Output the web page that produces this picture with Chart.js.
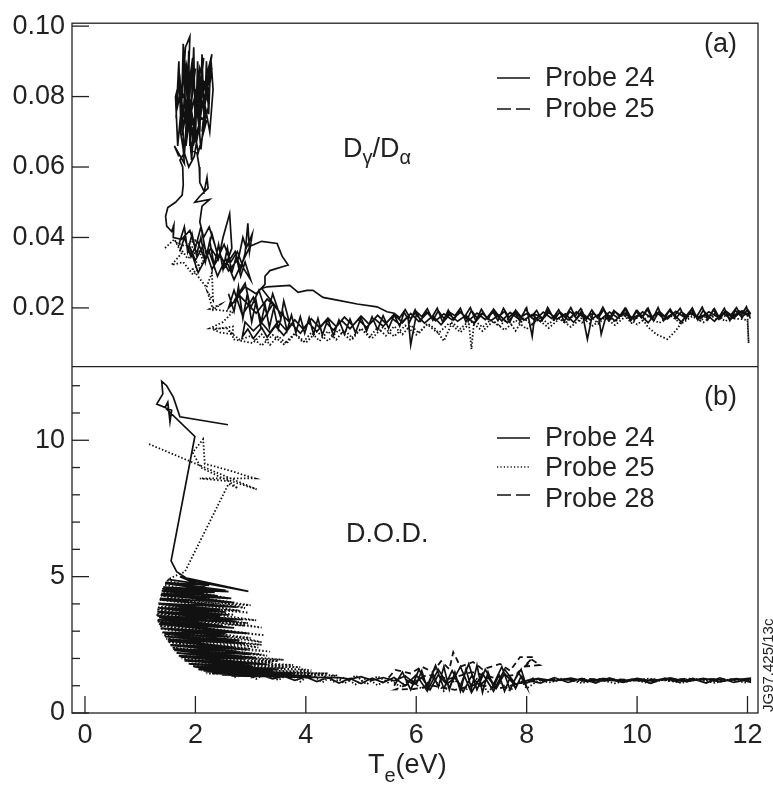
<!DOCTYPE html>
<html>
<head>
<meta charset="utf-8">
<script src="https://cdn.jsdelivr.net/npm/chart.js@4.4.1/dist/chart.umd.min.js"></script>
<style>
  html, body { margin: 0; padding: 0; background: #fff; }
</style>
</head>
<body>
<canvas id="dodChart" width="773" height="787"></canvas>
<script>
// tick values
var xTicks = [0, 2, 4, 6, 8, 10, 12];
var yTicksA = [0.02, 0.04, 0.06, 0.08, 0.10];
var yTicksB = [0, 1, 2, 3, 4, 5, 6, 7, 8, 9, 10, 11, 12];
var yLabelsB = [0, 5, 10];

// (a) Dgamma/Dalpha, probe 24 (solid), [Te, ratio], null = break
var probe24a = [
  [1.7,0.063],[1.62,0.066],[1.8,0.061],[1.78,0.065],[1.72,0.071],[1.82,0.094],[1.9,0.097],[1.86,0.078],
  [1.76,0.069],[1.95,0.091],[1.83,0.066],[2.0,0.088],[1.88,0.072],[1.8,0.092],[1.92,0.064],[2.08,0.085],
  [1.98,0.071],[1.7,0.084],[1.66,0.076],[1.84,0.089],[1.94,0.069],[2.15,0.091],[2.05,0.076],[2.3,0.092],
  [2.22,0.084],[2.12,0.07],[2.25,0.078],[2.08,0.088],[1.96,0.066],[2.1,0.074],[2.2,0.073],[2.05,0.064],
  [1.86,0.083],[1.8,0.088],[1.9,0.074],[2.02,0.082],[2.28,0.086],[2.14,0.079],[1.98,0.063],[1.88,0.06],
  [1.8,0.064],[1.72,0.062],[1.77,0.06],[1.78,0.055],[1.76,0.052],[1.64,0.05],[1.5,0.0485],[1.46,0.046],
  [1.48,0.0432],[1.57,0.0417],[1.61,0.0435],[1.6,0.04],
  [1.75,0.0395],[1.9,0.042],[2.0,0.037],[2.1,0.043],[2.2,0.035],[2.3,0.041],[2.42,0.034],[2.5,0.04],
  [2.62,0.0467],[2.66,0.037],[2.55,0.032],[2.72,0.036],[2.82,0.031],[2.9,0.0355],[2.95,0.044],[2.98,0.036],
  [3.03,0.041],[2.92,0.037],[2.86,0.04],[2.78,0.034],[2.6,0.0305],[2.45,0.035],[2.3,0.031],[2.15,0.038],
  [2.0,0.0335],[1.88,0.038],[2.05,0.03],[2.25,0.036],[2.4,0.029],[2.55,0.034],[2.7,0.028],[2.85,0.033],
  [2.99,0.0375],[3.2,0.0389],[3.48,0.0383],[3.57,0.0347],[3.68,0.0322],[3.62,0.0319],[3.35,0.0306],[3.26,0.029],
  [3.26,0.0267],[3.1,0.024],[2.9,0.026],[2.7,0.022],[2.9,0.027],[3.0,0.02],[3.15,0.025],[3.3,0.018],
  [3.4,0.024],[3.55,0.017],[3.6,0.022],[3.7,0.016],[3.4,0.021],[3.2,0.016],[3.05,0.023],[2.85,0.018],
  [2.7,0.025],[2.6,0.02],[2.8,0.0235],[3.1,0.0185],[3.3,0.0225],[3.5,0.0195],[3.2,0.0255],[3.3,0.026],
  [3.71,0.0264],[3.86,0.0244],[4.02,0.025],[4.13,0.025],[4.31,0.023],[4.57,0.0222],[4.93,0.0211],[5.29,0.0203],
  [5.47,0.0189],
  [5.6,0.0185],[5.7,0.0172],[5.8,0.0195],[5.9,0.0168],[6.0,0.019],[6.1,0.0175],[6.2,0.0198],[6.3,0.0165],
  [6.4,0.0192],[6.5,0.017],[6.6,0.0188],[6.7,0.0178],[6.8,0.0199],[6.9,0.016],[7.0,0.0193],[7.1,0.0172],
  [7.2,0.0186],[7.3,0.0168],[7.4,0.0197],[7.5,0.0176],[7.6,0.019],[7.7,0.0162],[7.8,0.0194],[7.9,0.0174],
  [8.0,0.02],[8.1,0.0119],[8.15,0.0182],[8.3,0.0171],[8.4,0.0196],[8.5,0.0166],[8.6,0.0189],[8.7,0.0175],
  [8.8,0.0201],[8.9,0.0169],[9.0,0.0192],[9.1,0.0111],[9.2,0.0188],[9.3,0.0172],[9.4,0.0196],[9.5,0.0165],
  [9.6,0.019],[9.7,0.0178],[9.8,0.0198],[9.9,0.0168],[10.0,0.0193],[10.1,0.0174],[10.2,0.0199],[10.3,0.0163],
  [10.4,0.0191],[10.5,0.0176],[10.6,0.0197],[10.7,0.017],[10.8,0.0189],[10.9,0.0177],[11.0,0.02],[11.1,0.0166],
  [11.2,0.0194],[11.3,0.0173],[11.4,0.0198],[11.5,0.0169],[11.6,0.0192],[11.7,0.018],[11.8,0.0201],[11.9,0.0172],
  [12.0,0.0196],[12.05,0.0185],
  [12.02,0.0178],[11.85,0.0191],[11.7,0.0168],[11.55,0.0186],[11.4,0.0162],[11.25,0.0183],[11.1,0.0171],[10.95,0.0189],
  [10.8,0.016],[10.65,0.0185],[10.5,0.0167],[10.35,0.0188],[10.2,0.0158],[10.05,0.0182],[9.9,0.017],[9.75,0.0187],
  [9.6,0.0163],[9.45,0.0184],[9.35,0.0125],[9.3,0.0181],[9.15,0.0166],[9.0,0.0186],[8.85,0.0159],[8.7,0.0183],
  [8.55,0.0168],[8.4,0.0187],[8.25,0.0161],[8.1,0.0181],[7.95,0.0165],[7.8,0.0186],[7.65,0.0158],[7.5,0.018],
  [7.35,0.0164],[7.2,0.0184],[7.05,0.0156],[6.9,0.0179],[6.75,0.0162],[6.6,0.0181],[6.45,0.0152],[6.3,0.0177],
  [6.15,0.0157],[6.0,0.018],[5.9,0.0095],[5.85,0.0176],[5.7,0.0153],[5.55,0.0172],[5.4,0.0148],[5.25,0.0169],
  [5.1,0.0145],[4.95,0.0167],[4.8,0.0141],[4.65,0.0164],[4.5,0.0137],[4.35,0.0161],[4.2,0.0133],[4.05,0.0158],
  [3.9,0.0128],[3.75,0.0154],[3.6,0.0122],[3.45,0.0149],[3.3,0.0117],[3.2,0.0144],[3.05,0.0113],[2.95,0.014],
  [2.85,0.0118],
  [2.9,0.016],[3.05,0.0135],[3.2,0.0158],[3.35,0.013],[3.5,0.0162],[3.65,0.0136],[3.8,0.0166],[3.95,0.014],
  [4.1,0.0169],[4.25,0.0144],[4.4,0.0171],[4.55,0.0147],[4.7,0.0174],[4.85,0.015],[5.0,0.0177],[5.15,0.0153],
  [5.3,0.0179],[5.45,0.0156],[5.6,0.0182],[5.75,0.0158],[5.9,0.0184],[6.05,0.0161],[6.2,0.0186],[6.35,0.0163],
  [6.5,0.0183],[6.65,0.0166],[6.8,0.0188],[6.95,0.0164],[7.1,0.0185],[7.25,0.0167],[7.4,0.0189],[7.55,0.0163],
  [7.7,0.0187],[7.85,0.0169],[8.0,0.0184],[8.15,0.0165],[8.3,0.0188],[8.45,0.017],[8.6,0.0186],[8.75,0.0166],
  [8.9,0.0189],[9.05,0.0171],[9.2,0.0185],[9.35,0.0168],[9.5,0.0188],[9.65,0.0172],[9.8,0.0186],[9.95,0.0167],
  [10.1,0.0189],[10.25,0.0173],[10.4,0.0187],[10.55,0.0169],[10.7,0.019],[10.85,0.0174],[11.0,0.0186],[11.15,0.017],
  [11.3,0.0189],[11.45,0.0175],[11.6,0.0187],[11.75,0.0171],[11.9,0.0192],[12.05,0.0178],
  null,
  [1.94,0.0647],[2.03,0.0639],[2.07,0.06],[2.08,0.0556],[2.16,0.053],[2.21,0.057],[2.23,0.054],[2.08,0.0517],
  [1.99,0.05],[2.26,0.0508],[2.12,0.0489],[2.08,0.0444],[2.15,0.04],[2.25,0.043],[2.35,0.038],
  null,
  [1.65,0.074],[1.7,0.09],[1.74,0.07],[1.78,0.095],[1.84,0.068],[1.88,0.093],[1.9,0.066],[1.97,0.094],
  [2.0,0.067],[2.04,0.09],[2.08,0.07],[2.12,0.092],[2.16,0.072],[2.2,0.09],[2.24,0.075],[2.28,0.091],
  [2.32,0.082],[2.26,0.07],[2.18,0.077],[2.1,0.065],[2.02,0.08],[1.93,0.062],[1.86,0.08],[1.8,0.063],
  [1.75,0.078],[1.68,0.066],[1.64,0.08],[1.72,0.085],[1.78,0.074],[1.82,0.086],[1.9,0.072],[1.96,0.086],
  [2.06,0.072],[2.14,0.084],[2.22,0.079],[2.3,0.088],
  null,
  [1.7,0.038],[1.8,0.043],[1.86,0.036],[1.94,0.041],[2.02,0.035],[2.1,0.04],[2.18,0.033],[2.26,0.039],
  [2.34,0.032],[2.42,0.038],[2.5,0.031],[2.58,0.037],[2.66,0.03],[2.74,0.0345],[2.82,0.029],[2.9,0.033],
  [3.0,0.028],[2.88,0.031],[2.76,0.036],[2.64,0.033],[2.52,0.038],[2.4,0.034],[2.28,0.037],[2.16,0.034],
  [2.04,0.039],[1.92,0.0345],[1.8,0.04],[1.72,0.036],
  null,
  [2.6,0.024],[2.7,0.019],[2.78,0.026],[2.86,0.017],[2.94,0.024],[3.02,0.016],[3.1,0.022],[3.18,0.015],
  [3.26,0.021],[3.34,0.0145],[3.42,0.02],[3.5,0.014],[3.58,0.019],[3.66,0.0135],[3.74,0.018],[3.82,0.013],
  [3.9,0.0175],[3.98,0.0128],[4.06,0.0172],[4.14,0.0125],[4.22,0.017],[4.3,0.0123],[4.4,0.0168],[4.5,0.0122],
  [4.6,0.0166],[4.7,0.0125],[4.8,0.0168],[4.9,0.013],[5.0,0.0172],[5.1,0.0134],[5.2,0.0175],[5.3,0.0138],
  [5.4,0.0178],[5.5,0.0142],[5.6,0.018],[5.7,0.0148],
  [5.78,0.0188],[5.88,0.016],[5.98,0.0195],[6.08,0.0163],[6.18,0.019],[6.28,0.0172],[6.38,0.0199],[6.48,0.016],
  [6.58,0.0194],[6.68,0.0166],[6.78,0.0191],[6.88,0.0176],[6.98,0.0201],[7.08,0.0163],[7.18,0.0196],[7.28,0.0171],
  [7.38,0.0192],[7.48,0.0164],[7.58,0.0199],[7.68,0.0173],[7.78,0.0189],[7.88,0.0162],[7.98,0.0197],[8.08,0.0174],
  [8.18,0.0193],[8.28,0.0165],[8.38,0.0201],[8.48,0.0172],[8.58,0.0195],[8.68,0.0162],[8.78,0.019],[8.88,0.0177],
  [8.98,0.0198],[9.08,0.0167],[9.18,0.0194],[9.28,0.0172],[9.38,0.0202],[9.48,0.0165],[9.58,0.0193],[9.68,0.0176],
  [9.78,0.0199],[9.88,0.0163],[9.98,0.0191],[10.08,0.0172],[10.18,0.0197],[10.28,0.0168],[10.38,0.0201],[10.48,0.0164],
  [10.58,0.0192],[10.68,0.0178],[10.78,0.0199],[10.88,0.0167],[10.98,0.0194],[11.08,0.0175],[11.18,0.0202],[11.28,0.0166],
  [11.38,0.0195],[11.48,0.0172],[11.58,0.0199],[11.68,0.0164],[11.78,0.0193],[11.88,0.0177],[11.98,0.0203],[12.05,0.017]
];

// (a) probe 25 (dotted)
var probe25a = [
  [1.45,0.037],[1.62,0.0395],[1.75,0.0355],[1.57,0.0322],[1.78,0.033],[1.96,0.0294],[2.08,0.0314],[1.9,0.036],
  [2.02,0.0395],[1.82,0.0375],[1.66,0.0385],[1.86,0.034],[2.06,0.0365],[2.15,0.033],[1.95,0.031],[2.2,0.0258],
  [2.3,0.03],[2.32,0.0222],[2.22,0.0245],[2.32,0.0194],[2.45,0.021],[2.26,0.0197],[2.68,0.0189],[2.5,0.016],
  [2.26,0.0142],[2.57,0.0142],[2.68,0.0125],[2.45,0.013],[2.32,0.0139],[2.68,0.0147],[2.68,0.0111],[3.04,0.01],
  [3.2,0.0125],[3.35,0.0095],[3.5,0.012],[3.65,0.0098],[3.8,0.0127],[3.95,0.0102],[4.1,0.013],[4.25,0.0106],
  [4.4,0.0134],[4.55,0.011],[4.7,0.0138],[4.85,0.0113],[5.0,0.0141],[5.15,0.0117],[5.3,0.0144],[5.45,0.0121],
  [5.6,0.0148],[5.75,0.0125],[5.9,0.0151],[6.05,0.0128],[6.2,0.0156],[6.35,0.014],[6.5,0.0106],[6.65,0.0158],
  [6.8,0.0141],[6.95,0.0162],[7.0,0.0083],[7.05,0.0165],[7.2,0.0145],[7.35,0.0166],[7.5,0.0148],[7.65,0.0168],
  [7.8,0.0135],[7.95,0.017],[8.1,0.0152],[8.25,0.0172],[8.4,0.0154],[8.55,0.0175],[8.7,0.0156],[8.85,0.0178],
  [9.0,0.0158],[9.15,0.0176],[9.3,0.0155],[9.45,0.0179],[9.6,0.016],[9.75,0.0181],[9.9,0.0157],[10.05,0.018],
  [10.2,0.0145],[10.35,0.0125],[10.55,0.0111],[10.7,0.0135],[10.85,0.0168],[11.0,0.0182],[11.15,0.0163],[11.3,0.0184],
  [11.45,0.0165],[11.6,0.0178],[11.75,0.017],[11.9,0.0168],[12.0,0.0165],[12.02,0.01],
  [12.0,0.0178],[11.8,0.0186],[11.6,0.0162],[11.4,0.0183],[11.2,0.0159],[11.0,0.0176],[10.8,0.0155],[10.6,0.0179],
  [10.4,0.0157],[10.2,0.0175],[10.0,0.0153],[9.8,0.0177],[9.6,0.0151],[9.4,0.0174],[9.2,0.0149],[9.0,0.0172],
  [8.8,0.0146],[8.6,0.017],[8.4,0.0143],[8.2,0.0168],[8.0,0.014],[7.8,0.0165],[7.6,0.0137],[7.4,0.0163],
  [7.2,0.0134],[7.0,0.016],[6.8,0.0131],[6.6,0.0157],[6.4,0.0128],[6.2,0.0153],[6.0,0.0124],[5.8,0.015],
  [5.6,0.0119],[5.4,0.0146],[5.2,0.0114],[5.0,0.0142],[4.8,0.011],[4.6,0.0138],[4.4,0.0106],[4.2,0.0133],
  [4.0,0.0101],[3.8,0.0128],[3.6,0.0097],[3.4,0.0123],[3.2,0.0093],[3.0,0.012],[2.8,0.011],[2.6,0.0135]
];

// (b) D.O.D., probe 24 (solid)
var probe24b = [
  [2.59,10.57],[1.72,10.86],[1.6,11.58],[1.48,12.0],[1.39,12.16],[1.41,11.7],[1.3,11.33],[1.57,11.1],
  [1.54,10.68],[1.5,11.4],[1.45,11.2],[1.99,10.14],[1.56,5.58],[1.66,5.18],[1.9,4.86],[2.96,4.46],
  [1.72,5.0],[2.3,4.5],
  [1.45,4.75],[2.6,4.45],[1.4,4.55],[2.4,4.3],[1.38,4.38],[2.7,4.05],[1.36,4.2],[2.3,3.95],
  [1.35,4.0],[2.55,3.7],[1.34,3.85],[2.45,3.55],[1.33,3.7],[2.75,3.35],[1.34,3.5],[2.5,3.2],
  [1.36,3.32],[2.8,2.95],[1.4,3.1],[2.6,2.8],[1.44,2.9],[2.9,2.55],[1.5,2.7],[2.7,2.4],
  [1.55,2.5],[3.0,2.15],[1.62,2.3],[2.85,2.0],[1.7,2.1],[3.2,1.8],[1.8,1.95],[3.05,1.7],
  [1.9,1.8],[3.4,1.55],[2.0,1.68],[3.3,1.5],[2.15,1.55],[3.7,1.42],[2.3,1.45],[3.9,1.36],
  [2.5,1.4],[4.2,1.32],[2.7,1.36],[4.6,1.3],
  [4.8,1.24],[5.0,1.33],[5.2,1.2],[5.4,1.3],[5.6,1.18],[5.8,1.36],[6.0,1.05],[6.1,1.55],
  [6.2,0.9],[6.3,1.45],[6.4,0.95],[6.5,1.7],[6.6,0.85],[6.7,1.5],[6.8,0.8],[6.9,1.6],
  [7.0,0.9],[7.1,1.75],[7.2,0.75],[7.3,1.5],[7.4,0.95],[7.5,1.4],[7.6,0.8],[7.7,1.3],
  [7.8,0.9],[7.9,1.35],[8.0,1.1],[8.2,1.27],[8.5,1.18],[8.8,1.28],[9.1,1.15],[9.4,1.26],
  [9.7,1.14],[10.0,1.27],[10.3,1.16],[10.6,1.29],[10.9,1.15],[11.2,1.27],[11.5,1.14],[11.8,1.26],
  [12.05,1.13],[12.05,1.28],
  [11.7,1.2],[11.3,1.24],[10.9,1.19],[10.5,1.23],[10.1,1.18],[9.7,1.22],[9.3,1.17],[8.9,1.23],
  [8.5,1.2],[8.1,1.25],[7.8,1.05],[7.6,1.6],[7.4,0.8],[7.2,1.45],[7.0,0.75],[6.8,1.7],
  [6.6,0.95],[6.4,1.6],[6.2,0.8],[6.0,1.4],[5.8,1.0],[5.6,1.3],[5.4,1.12],[5.2,1.28],
  [5.0,1.08],[4.8,1.27],[4.6,1.1],[4.4,1.3],[4.2,1.15],[4.0,1.32],[3.8,1.2],[3.6,1.35],
  [3.4,1.25],[3.2,1.38],[3.0,1.3],
  null,
  [1.5,4.9],[2.25,4.68],[1.46,4.78],[2.55,4.5],[1.42,4.62],[2.35,4.42],[1.39,4.48],[2.65,4.2],
  [1.37,4.32],[2.4,4.12],[1.35,4.16],[2.75,3.88],[1.33,4.02],[2.45,3.8],[1.32,3.86],[2.6,3.6],
  [1.31,3.72],[2.85,3.42],[1.31,3.56],[2.5,3.36],[1.32,3.42],[2.7,3.12],[1.34,3.26],[2.95,2.92],
  [1.37,3.1],[2.55,2.9],[1.41,2.96],[2.8,2.66],[1.45,2.8],[2.65,2.6],[1.5,2.64],[2.95,2.32],
  [1.55,2.48],[2.75,2.26],[1.6,2.34],[3.1,2.02],[1.66,2.2],[2.9,1.98],[1.73,2.06],[3.3,1.78],
  [1.8,1.92],[3.0,1.74],[1.88,1.8],[3.5,1.6],[1.97,1.7],[3.2,1.56],[2.06,1.6],[3.8,1.45],
  [2.18,1.52],[3.5,1.42],[2.32,1.45],[4.1,1.36],[2.48,1.4],[3.8,1.34],[2.65,1.36],[4.5,1.3],
  null,
  [5.6,1.0],[5.75,1.5],[5.9,0.85],[6.05,1.6],[6.2,1.0],[6.35,1.75],[6.5,0.9],[6.65,1.55],
  [6.8,1.0],[6.95,1.8],[7.1,0.85],[7.25,1.6],[7.4,1.05],[7.55,1.7],[7.7,0.85],[7.85,1.5],
  [8.0,0.95],[7.9,1.6],[7.75,1.1],[7.6,1.45],[7.45,0.9],[7.3,1.3],[7.15,1.0],[7.0,1.35],
  [6.85,0.78],[6.7,1.3],[6.55,1.05],[6.4,1.4],[6.25,0.85],[6.1,1.3],[5.95,1.05],[5.8,1.25],
  null,
  [8.0,1.2],[8.25,1.1],[8.5,1.3],[8.75,1.12],[9.0,1.27],[9.25,1.1],[9.5,1.29],[9.75,1.12],
  [10.0,1.25],[10.25,1.09],[10.5,1.28],[10.75,1.13],[11.0,1.26],[11.25,1.1],[11.5,1.29],[11.75,1.12],
  [12.05,1.25]
];

// (b) probe 25 (dotted)
var probe25b = [
  [1.16,9.86],[3.11,8.2],[2.5,8.6],[2.1,9.0],[1.95,9.55],[2.14,10.04],[2.17,9.14],[2.6,8.9],
  [3.08,8.6],[2.08,8.6],[2.6,8.5],[2.77,8.24],[2.6,8.4],[1.81,5.18],[1.55,4.95],
  [1.5,4.85],[2.3,4.5],[1.42,4.6],[2.9,3.85],[1.38,4.3],[2.96,3.67],[1.32,4.0],[2.7,3.6],
  [1.3,3.8],[3.2,3.13],[1.28,3.6],[2.9,3.2],[1.3,3.4],[3.2,2.6],[1.36,3.1],[3.14,2.4],
  [1.42,2.85],[3.0,2.35],[1.5,2.6],[3.3,2.1],[1.58,2.4],[3.1,2.0],[1.66,2.2],[3.5,1.9],
  [1.75,2.0],[3.77,1.76],[1.9,1.8],[3.6,1.65],[2.05,1.6],[4.1,1.52],[2.2,1.45],[4.3,1.4],
  [4.5,1.15],[4.7,1.3],[4.9,1.05],[5.1,1.28],[5.3,1.02],[5.5,1.25],[5.7,0.98],[5.9,1.22],
  [6.1,0.88],[6.3,1.3],[6.5,0.8],[6.7,1.2],[6.9,0.85],[7.1,1.25],[7.3,0.78],[7.5,1.15],
  [7.7,0.82],[7.9,1.2],[8.0,0.9],[8.2,1.18],[8.6,1.26],[9.0,1.16],[9.4,1.27],[9.8,1.15],
  [10.2,1.26],[10.6,1.17],[11.0,1.27],[11.4,1.16],[11.8,1.26],[12.05,1.18],
  null,
  [3.9,1.58],[4.1,1.58],
  null,
  [5.5,1.1],[5.3,1.35],[5.1,1.05],[4.9,1.38],[4.7,1.08],[4.5,1.4],[4.3,1.12],[4.1,1.42],
  [3.9,1.15],[3.7,1.45],[3.5,1.2],[3.3,1.48],[3.1,1.25],[2.9,1.5],[2.7,1.3],
  null,
  [1.45,4.7],[2.6,4.2],[1.4,4.45],[3.0,3.95],[1.36,4.15],[2.8,3.75],[1.33,3.9],[3.1,3.4],
  [1.3,3.65],[2.95,3.3],[1.31,3.35],[3.25,2.85],[1.35,3.2],[3.0,2.75],[1.4,2.95],[3.2,2.5],
  [1.47,2.72],[3.35,2.25],[1.54,2.5],[3.2,2.15],[1.62,2.3],[3.6,1.95],[1.7,2.1],[3.4,1.85],
  [1.82,1.9],[3.9,1.68],[1.95,1.72],[4.0,1.6],[2.1,1.56],[4.4,1.45],[2.3,1.45],[4.6,1.38],
  null,
  [8.1,1.28],[8.4,1.12],[8.7,1.24],[9.0,1.1],[9.3,1.22],[9.6,1.09],[9.9,1.23],[10.2,1.1],
  [10.5,1.22],[10.8,1.1],[11.1,1.23],[11.4,1.11],[11.7,1.22],[12.0,1.1]
];

// (b) probe 28 (dashed)
var probe28b = [
  [5.5,1.3],[5.62,1.58],[5.9,1.45],[6.1,1.7],[6.3,1.5],[6.45,1.9],[6.6,1.6],[6.67,2.23],
  [6.8,1.7],[7.03,1.87],[7.2,1.6],[7.52,1.8],[7.7,1.55],[7.88,2.05],[8.12,2.05],[7.95,1.7],
  [8.24,1.76],[8.1,1.95],[7.8,1.4],[7.4,1.3],[7.0,1.5],[6.6,1.25],[6.2,1.4],[5.9,1.1],
  [5.62,0.86],[5.95,0.88],[6.3,1.0],[6.7,0.85],[7.1,1.05],[7.5,0.9],[7.9,1.1],[8.2,1.2],
  [9.0,1.25],[10.0,1.22],[11.0,1.25],[12.05,1.22]
];

var FONT = '"Liberation Sans", Arial, Helvetica, sans-serif';
var INK = '#111';
var TEXT = '#222';

function toPoints(arr) {
  return arr.map(function(p) {
    return p ? {x: p[0], y: p[1]} : {x: null, y: null};
  });
}

function trace(label, arr, yAxis, dash) {
  return {
    label: label,
    data: toPoints(arr),
    yAxisID: yAxis,
    showLine: true,
    borderColor: INK,
    borderWidth: dash.length ? 1.8 : 1.7,
    borderDash: dash,
    pointRadius: 0,
    spanGaps: false,
    tension: 0
  };
}

function seg(ctx, x1, y1, x2, y2) {
  ctx.beginPath();
  ctx.moveTo(x1, y1);
  ctx.lineTo(x2, y2);
  ctx.stroke();
}

function legendRow(ctx, y, dash, text, baseline) {
  ctx.setLineDash(dash);
  ctx.lineWidth = 1.6;
  seg(ctx, 497, y, 530, y);
  ctx.setLineDash([]);
  ctx.fillText(text, 545, baseline);
}

var frameAndText = {
  id: 'frameAndText',
  afterDraw: function(chart) {
    var ctx = chart.ctx, area = chart.chartArea;
    var xs = chart.scales.x, ya = chart.scales.ya, yb = chart.scales.yb;
    ctx.save();
    ctx.strokeStyle = '#222';
    ctx.lineWidth = 1.3;
    ctx.setLineDash([]);
    ctx.strokeRect(area.left, area.top, area.right - area.left, area.bottom - area.top);
    seg(ctx, area.left, ya.bottom, area.right, ya.bottom);

    // inward ticks
    yTicksA.forEach(function(v) {
      var y = ya.getPixelForValue(v);
      seg(ctx, area.left, y, area.left + 17, y);
    });
    yTicksB.forEach(function(v) {
      var y = yb.getPixelForValue(v);
      var len = yLabelsB.indexOf(v) >= 0 ? 17 : 8;
      seg(ctx, area.left, y, area.left + len, y);
    });
    xTicks.forEach(function(v) {
      var x = xs.getPixelForValue(v);
      seg(ctx, x, area.bottom, x, area.bottom - 17);
    });

    // panel labels and legends
    ctx.fillStyle = TEXT;
    ctx.strokeStyle = INK;
    ctx.textAlign = 'left';
    ctx.textBaseline = 'alphabetic';
    ctx.font = '27px ' + FONT;
    ctx.fillText('(a)', 704, 52);
    ctx.fillText('(b)', 704, 405);
    legendRow(ctx, 78, [], 'Probe 24', 86);
    legendRow(ctx, 109, [14, 5], 'Probe 25', 117);
    legendRow(ctx, 438, [], 'Probe 24', 446);
    legendRow(ctx, 467, [1.2, 2.2], 'Probe 25', 476);
    legendRow(ctx, 495, [14, 5], 'Probe 28', 507);

    ctx.font = '27px ' + FONT;
    ctx.fillText('D.O.D.', 346, 542);

    // D_gamma / D_alpha
    var x = 343;
    ctx.fillText('D', x, 157); x += ctx.measureText('D').width;
    ctx.font = '20px ' + FONT;
    ctx.fillText('\u03b3', x, 164); x += ctx.measureText('\u03b3').width;
    ctx.font = '27px ' + FONT;
    ctx.fillText('/D', x, 157); x += ctx.measureText('/D').width;
    ctx.font = '20px ' + FONT;
    ctx.fillText('\u03b1', x, 164);

    // T_e(eV)
    x = 368;
    ctx.font = '27px ' + FONT;
    ctx.fillText('T', x, 773); x += ctx.measureText('T').width;
    ctx.font = '20px ' + FONT;
    ctx.fillText('e', x, 782); x += ctx.measureText('e').width;
    ctx.font = '27px ' + FONT;
    ctx.fillText('(eV)', x, 773);

    // figure reference, vertical
    ctx.translate(773, 712);
    ctx.rotate(-Math.PI / 2);
    ctx.font = '15px ' + FONT;
    ctx.fillText('JG97.425/13c', 0, 0);
    ctx.restore();
  }
};

Chart.defaults.font.family = FONT;
Chart.defaults.font.size = 27;
Chart.defaults.color = TEXT;

new Chart(document.getElementById('dodChart'), {
  type: 'scatter',
  data: {
    datasets: [
      trace('Probe 24 (a)', probe24a, 'ya', []),
      trace('Probe 25 (a)', probe25a, 'ya', [1.5, 2]),
      trace('Probe 24 (b)', probe24b, 'yb', []),
      trace('Probe 25 (b)', probe25b, 'yb', [1.5, 2]),
      trace('Probe 28 (b)', probe28b, 'yb', [6, 4])
    ]
  },
  options: {
    responsive: false,
    animation: false,
    layout: { padding: { top: 10, right: 15, left: 0, bottom: 0 } },
    plugins: { legend: { display: false }, tooltip: { enabled: false } },
    scales: {
      x: {
        type: 'linear', position: 'bottom',
        min: -0.235, max: 12.19,
        grid: { display: false, drawTicks: false }, border: { display: false },
        afterBuildTicks: function(s) { s.ticks = xTicks.map(function(v) { return {value: v}; }); },
        afterFit: function(s) { s.height = 74; },
        ticks: { padding: 6, autoSkip: false, maxRotation: 0 }
      },
      yb: {
        type: 'linear', position: 'left', stack: 'panels', stackWeight: 353, weight: 1,
        min: 0, max: 12.7,
        grid: { display: false, drawTicks: false }, border: { display: false },
        afterBuildTicks: function(s) { s.ticks = yTicksB.map(function(v) { return {value: v}; }); },
        afterFit: function(s) { s.width = 72; },
        ticks: {
          padding: 7, autoSkip: false,
          callback: function(v) { return yLabelsB.indexOf(v) >= 0 ? String(v) : ''; }
        }
      },
      ya: {
        type: 'linear', position: 'left', stack: 'panels', stackWeight: 350, weight: 2,
        min: 0.00333, max: 0.10083,
        grid: { display: false, drawTicks: false }, border: { display: false },
        afterBuildTicks: function(s) { s.ticks = yTicksA.map(function(v) { return {value: v}; }); },
        afterFit: function(s) { s.width = 72; },
        ticks: {
          padding: 7, autoSkip: false,
          callback: function(v) { return v.toFixed(2); }
        }
      }
    }
  },
  plugins: [frameAndText]
});
</script>
</body>
</html>
